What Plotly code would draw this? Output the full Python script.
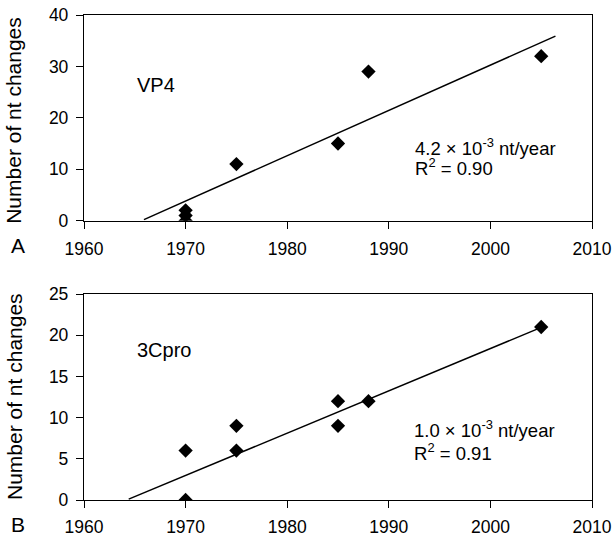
import plotly.graph_objects as go

# Panel A: VP4
vp4_years = [1970, 1970, 1970, 1975, 1985, 1988, 2005]
vp4_changes = [0, 1, 2, 11, 15, 29, 32]
vp4_trend_x = [1965.9, 2006.4]
vp4_trend_y = [0.2, 35.9]

# Panel B: 3Cpro
c3_years = [1970, 1970, 1975, 1975, 1985, 1985, 1988, 2005]
c3_changes = [0, 6, 6, 9, 9, 12, 12, 21]
c3_trend_x = [1964.4, 2005.3]
c3_trend_y = [0.1, 21.1]

x_ticks = [1960, 1970, 1980, 1990, 2000, 2010]
yA_ticks = [0, 10, 20, 30, 40]
yB_ticks = [0, 5, 10, 15, 20, 25]

FONT = "Liberation Sans, Arial, Helvetica, sans-serif"
BLACK = "#000000"

fig = go.Figure()

marker = dict(symbol="diamond", size=11, color=BLACK)
fig.add_trace(go.Scatter(x=vp4_years, y=vp4_changes, mode="markers", marker=marker,
                         xaxis="x", yaxis="y", showlegend=False))
fig.add_trace(go.Scatter(x=vp4_trend_x, y=vp4_trend_y, mode="lines",
                         line=dict(color=BLACK, width=1.5), xaxis="x", yaxis="y", showlegend=False))
fig.add_trace(go.Scatter(x=c3_years, y=c3_changes, mode="markers", marker=marker,
                         xaxis="x2", yaxis="y2", showlegend=False))
fig.add_trace(go.Scatter(x=c3_trend_x, y=c3_trend_y, mode="lines",
                         line=dict(color=BLACK, width=1.5), xaxis="x2", yaxis="y2", showlegend=False))

axis_common = dict(showline=True, linecolor=BLACK, linewidth=1.3, mirror=True,
                   ticks="outside", ticklen=7, tickwidth=1.3, tickcolor=BLACK,
                   showgrid=False, zeroline=False, automargin=False,
                   tickfont=dict(family=FONT, size=17.5, color=BLACK))

fig.update_layout(
    width=612, height=536,
    margin=dict(l=84, r=20, t=15, b=36, autoexpand=False),
    paper_bgcolor="white", plot_bgcolor="white",
    font=dict(family=FONT, color=BLACK),
    xaxis=dict(range=[1960, 2010], tickvals=x_ticks, anchor="y", domain=[0, 1],
               ticklabelstandoff=5, **axis_common),
    yaxis=dict(range=[0, 40], tickvals=yA_ticks, anchor="x", domain=[0.576, 1.0],
               ticklabelstandoff=4, **axis_common),
    xaxis2=dict(range=[1960, 2010], tickvals=x_ticks, anchor="y2", domain=[0, 1],
                ticklabelstandoff=4, **axis_common),
    yaxis2=dict(range=[0, 25], tickvals=yB_ticks, anchor="x2", domain=[0.0, 0.4247],
                ticklabelstandoff=4, **axis_common),
)

ann_font = dict(family=FONT, size=18.5, color=BLACK)
label_font = dict(family=FONT, size=20, color=BLACK)
annotations = [
    dict(text="VP4", x=1965.0, y=26.4, xref="x", yref="y", xanchor="left", yanchor="middle",
         showarrow=False, font=label_font),
    dict(text="4.2 × 10<sup>-3</sup> nt/year", x=1992.4, y=14.4, xref="x", yref="y",
         xanchor="left", yanchor="middle", showarrow=False, font=ann_font),
    dict(text="R<sup>2</sup> = 0.90", x=1992.4, y=10.4, xref="x", yref="y",
         xanchor="left", yanchor="middle", showarrow=False, font=ann_font),
    dict(text="3Cpro", x=1965.0, y=18.2, xref="x2", yref="y2", xanchor="left", yanchor="middle",
         showarrow=False, font=label_font),
    dict(text="1.0 × 10<sup>-3</sup> nt/year", x=1992.3, y=8.6, xref="x2", yref="y2",
         xanchor="left", yanchor="middle", showarrow=False, font=ann_font),
    dict(text="R<sup>2</sup> = 0.91", x=1992.3, y=5.8, xref="x2", yref="y2",
         xanchor="left", yanchor="middle", showarrow=False, font=ann_font),
    # y-axis titles
    dict(text="Number of nt changes", x=0, y=(0.576 + 1.0) / 2, xref="paper", yref="paper",
         xshift=-70, yshift=-3, textangle=-90, xanchor="center", yanchor="middle",
         showarrow=False, font=dict(family=FONT, size=21, color=BLACK)),
    dict(text="Number of nt changes", x=0, y=0.4247 / 2, xref="paper", yref="paper",
         xshift=-70, textangle=-90, xanchor="center", yanchor="middle", showarrow=False,
         font=dict(family=FONT, size=21, color=BLACK)),
    # panel letters
    dict(text="A", x=0, y=0.576, xref="paper", yref="paper", xshift=-66, yshift=-25,
         xanchor="center", yanchor="middle", showarrow=False,
         font=dict(family=FONT, size=21, color=BLACK)),
    dict(text="B", x=0, y=0.0, xref="paper", yref="paper", xshift=-66, yshift=-24,
         xanchor="center", yanchor="middle", showarrow=False,
         font=dict(family=FONT, size=21, color=BLACK)),
]
fig.update_layout(annotations=annotations)

fig.write_html("out.html", config={"displayModeBar": False},
               post_script="document.body.style.margin='0';document.body.style.padding='0';")
